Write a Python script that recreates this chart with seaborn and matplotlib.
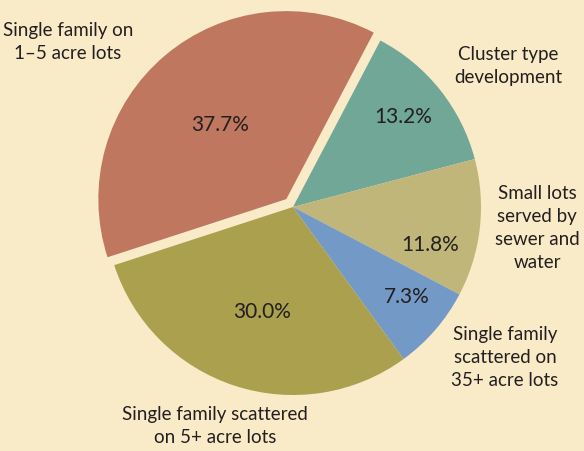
## Pie chart of housing development types
import matplotlib
matplotlib.use('Agg')
import matplotlib.pyplot as plt
import seaborn as sns

# data, in drawing order (clockwise from the top right)
categories = ['Cluster type\ndevelopment',
              'Small lots\nserved by\nsewer and\nwater',
              'Single family\nscattered on\n35+ acre lots',
              'Single family scattered\non 5+ acre lots',
              'Single family on\n1\u20135 acre lots']
shares = [13.2, 11.8, 7.3, 30.0, 37.7]
colors = ['#70a797', '#c1b67a', '#7399c7', '#aaa04d', '#c07760']

# where the texts sit (pie radius = 1)
pct_pos = [(0.585, 0.479), (0.729, -0.202), (0.606, -0.479), (-0.165, -0.559), (-0.388, 0.436)]
label_pos = [(1.144, 0.75), (1.298, -0.112), (1.128, -0.80), (-0.415, -1.165), (-1.197, 0.878)]

sns.set_theme(style='white')
plt.rcParams['font.family'] = ['Lato', 'DejaVu Sans']

bg = '#f9ebc7'
fig = plt.figure(figsize=(5.84, 4.51), dpi=100, facecolor=bg)
ax = fig.add_axes([0, 0, 1, 1])
ax.set_facecolor(bg)

explode = [0, 0, 0, 0, 0.055]
ax.pie(shares, colors=colors, startangle=62.3, counterclock=False,
       explode=explode, radius=1.0, center=(0, 0),
       wedgeprops={'linewidth': 0, 'edgecolor': 'none'})

for v, (x, y) in zip(shares, pct_pos):
    ax.text(x, y, '{:.1f}%'.format(v), ha='center', va='center',
            fontsize=15, color='#231f20')

for lab, (x, y) in zip(categories, label_pos):
    ax.text(x, y, lab, ha='center', va='center', fontsize=13.5,
            color='#231f20', linespacing=1.42)

ax.set_xlim(-293 / 188, (584 - 293) / 188)
ax.set_ylim((207 - 451) / 188, 207 / 188)
ax.set_aspect('equal')
ax.axis('off')

plt.savefig('out.png', dpi=100, facecolor=bg)
